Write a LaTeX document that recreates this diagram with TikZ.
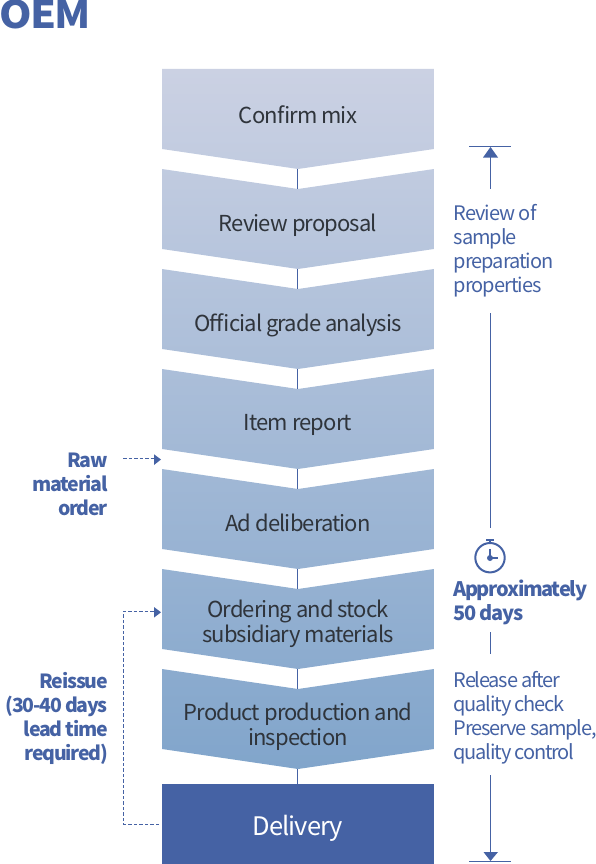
\documentclass[tikz,border=0pt]{standalone}
\usepackage{fontspec}
\usetikzlibrary{arrows.meta}
\setmainfont{Noto Sans CJK KR}[LetterSpace=-4]
\newfontfamily\sidefont{Noto Sans CJK KR}[LetterSpace=-5]
\newfontfamily\sidetight{Noto Sans CJK KR}[LetterSpace=-6]
\newfontfamily\boldfont{Noto Sans CJK KR}[LetterSpace=-6.5]
\definecolor{blueink}{HTML}{4562A4}
\definecolor{stepink}{HTML}{2F343B}
\definecolor{topband}{HTML}{CBD1E3}
\definecolor{lowband}{HTML}{81A5CB}
\tikzset{
  x=1pt,y=-1pt,
  steptext/.style={text=stepink,font=\fontsize{22}{25}\selectfont,align=center,inner sep=0pt},
  sidetext/.style={text=blueink,font=\sidefont\fontsize{20}{24}\selectfont,align=left,inner sep=0pt,anchor=north west},
  sidetighter/.style={text=blueink,font=\sidetight\fontsize{20}{24}\selectfont,align=left,inner sep=0pt,anchor=north west},
  sideboldleft/.style={text=blueink,font=\boldfont\fontsize{20}{24}\selectfont\bfseries,align=left,inner sep=0pt,anchor=north west},
  sideboldright/.style={text=blueink,font=\boldfont\fontsize{19.5}{24}\selectfont\bfseries,align=right,inner sep=0pt,anchor=north east},
  guide/.style={draw=blueink,line width=1pt},
  dashguide/.style={draw=blueink,line width=0.9pt,dash pattern=on 3.5pt off 2pt},
  headtri/.style={fill=blueink,draw=none},
}
\newcommand{\chev}[4]{% top y, top colour pct, bottom colour pct, notch
  \path[top color=lowband!#2!topband,bottom color=lowband!#3!topband]
    (162,#1) -- (298,#1+#4) -- (434,#1) -- (434,#1+80) -- (298,#1+100) -- (162,#1+80) -- cycle;
}
\begin{document}
\begin{tikzpicture}
\useasboundingbox (0,0) rectangle (596,864);
\chev{69}{0}{14}{0}
\chev{169}{14}{29}{20}
\chev{269}{29}{43}{20}
\chev{369}{43}{57}{20}
\chev{469}{57}{71}{20}
\chev{569}{71}{86}{20}
\chev{669}{86}{100}{20}
\fill[blueink] (162,784) rectangle (434,864);
% centre connectors
\foreach \a/\b in {169/189,269/289,369/389,469/489,569/589,669/689,769/784}
  \draw[guide] (297.5,\a) -- (297.5,\b);
% step labels
\node[steptext] (s1) at (298,115) {Confirm mix};
\node[steptext] (s2) at (298,225) {Review proposal};
\node[steptext] (s3) at (298,325) {Official grade analysis};
\node[steptext] (s4) at (298,425) {Item report};
\node[steptext] (s5) at (298,523) {Ad deliberation};
\node[steptext] (s6) at (298,624) {Ordering and stock\\subsidiary materials};
\node[steptext] (s7) at (298,727) {Product production and\\inspection};
\node[steptext,text=white,font=\fontsize{25.5}{28}\selectfont] (s8) at (298,828) {Delivery};
% title
\node[anchor=base west,inner sep=0pt,text=blueink,xscale=1.09,font=\fontsize{38}{40}\selectfont\bfseries] (title) at (-1,28.5) {OEM};
% left labels
\node[sideboldright] (raw) at (108,453) {Raw\\material\\order};
\node[sideboldright] (reissue) at (108,672) {Reissue\\(30-40 days\\lead time\\required)};
% dashed links
\coordinate (rawa) at (123,458.5);
\coordinate (rawb) at (155,458.5);
\draw[dashguide] (rawa) -- (rawb);
\fill[headtri] (161,459.5) -- (154,454.3) -- (154,465) -- cycle;
\coordinate (reA) at (159,824);
\coordinate (reB) at (123.5,824);
\coordinate (reC) at (123.5,611);
\coordinate (reD) at (155,611);
\draw[dashguide] (reA) -- (reB) -- (reC) -- (reD);
\fill[headtri] (161,612.3) -- (154,607) -- (154,617.6) -- cycle;
% right guide
\draw[guide] (469,146.5) -- (511,146.5);
\fill[headtri] (490.5,147) -- (483,157.5) -- (498,157.5) -- cycle;
\draw[guide] (490.5,157) -- (490.5,189);
\draw[guide] (490.5,313) -- (490.5,528);
\draw[guide] (490.5,632) -- (490.5,654);
\draw[guide] (490.5,775) -- (490.5,853);
\fill[headtri] (490.5,861) -- (483.5,852) -- (498,852) -- cycle;
\draw[guide] (469,861.5) -- (511,861.5);
% stopwatch
\draw[blueink,line width=2pt] (490,557.7) circle (14.7);
\draw[blueink,line width=2pt] (490,543) -- (490,540);
\draw[blueink,line width=1.5pt] (486,539.8) -- (494,539.8);
\fill[blueink] (490,558) circle (3);
\draw[blueink,line width=1.6pt] (490,549) -- (490,558) -- (498,558);
% right texts
\node[sidetext] (r1) at (453.5,204) {Review of\\sample\\preparation\\properties};
\node[sideboldleft] (r2) at (453,580) {Approximately\\50 days};
\node[sidetighter] (r3) at (453.5,671) {Release after\\quality check\\Preserve sample,\\quality control};
\end{tikzpicture}
\end{document}
